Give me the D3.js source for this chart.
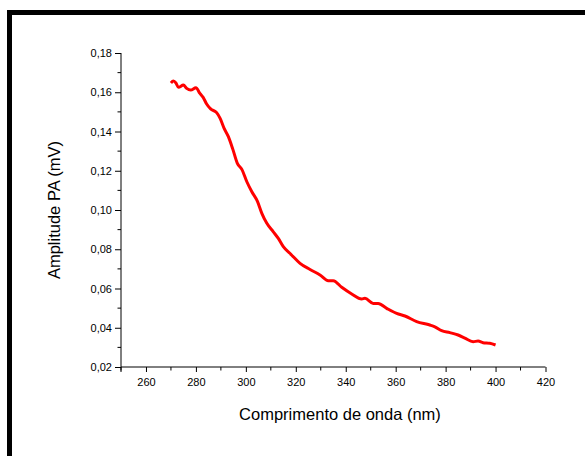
<!DOCTYPE html>
<html>
<head>
<meta charset="utf-8">
<script src="https://cdn.jsdelivr.net/npm/d3@7"></script>
<style>
html,body{margin:0;padding:0;background:#fff;}
svg{display:block;font-family:"Liberation Sans",Arial,sans-serif;}
</style>
</head>
<body>
<script>
const wavelength = [270,271,272,273,275,276.3,277.9,280,281.6,282.9,284.3,285.9,288.3,289.7,291.3,293,294.8,296.6,298.4,300.4,302.4,304.6,306.4,308.4,311,313,315,318.3,321.7,325.7,329.7,333,335,338.4,342.4,346.4,347.7,351,353,356.4,360.4,363.7,368.4,373.7,375.7,378.4,381.7,385,387.7,391,393,395,397.7,400];
const amplitude = [0.1647,0.1657,0.1647,0.1625,0.1637,0.1620,0.1611,0.1623,0.1594,0.1574,0.1540,0.1515,0.1496,0.1467,0.1416,0.1374,0.1309,0.1238,0.1207,0.1144,0.1093,0.1045,0.0983,0.0932,0.0889,0.0855,0.0813,0.0771,0.0728,0.0697,0.0669,0.0640,0.0640,0.0606,0.0572,0.0546,0.0550,0.0524,0.0524,0.0499,0.0473,0.0460,0.0431,0.0414,0.0405,0.0385,0.0375,0.0363,0.0347,0.0329,0.0332,0.0324,0.0321,0.0312];
const xTicks = [260,280,300,320,340,360,380,400,420];
const xMinor = [250,270,290,310,330,350,370,390,410];
const yTicks = [0.02,0.04,0.06,0.08,0.10,0.12,0.14,0.16,0.18];
const yMinor = [0.03,0.05,0.07,0.09,0.11,0.13,0.15,0.17];
const xTitle = "Comprimento de onda (nm)";
const yTitle = "Amplitude PA (mV)";

const W = 585, H = 456;
const svg = d3.select("body").append("svg").attr("width", W).attr("height", H);

// frame
svg.append("rect").attr("x", 9.5).attr("y", 12.5).attr("width", 700).attr("height", 600)
  .attr("fill", "#fff").attr("stroke", "#000").attr("stroke-width", 5);

const x = d3.scaleLinear().domain([250, 420]).range([121, 545.5]);
const y = d3.scaleLinear().domain([0.02, 0.18]).range([367, 53]);
const fmt = d => d3.format(".2f")(d).replace(".", ",");

// x axis
const gx = svg.append("g").attr("transform", "translate(0,367)");
gx.call(d3.axisBottom(x).tickValues(xTicks).tickSize(5).tickSizeOuter(0).tickPadding(6))
  .call(g => g.select(".domain").attr("d", `M${x(250)},0H${x(420)}`));
gx.append("g").selectAll("line").data(xMinor).join("line")
  .attr("x1", d => x(d)).attr("x2", d => x(d)).attr("y1", 0).attr("y2", 3.5).attr("stroke", "#000");
gx.selectAll("text").attr("font-size", 11).attr("fill", "#000").attr("font-family", "Liberation Sans, Arial, sans-serif");

// y axis
const gy = svg.append("g").attr("transform", "translate(121,0)");
gy.call(d3.axisLeft(y).tickValues(yTicks).tickFormat(fmt).tickSize(6).tickSizeOuter(0).tickPadding(3))
  .call(g => g.select(".domain").attr("d", `M0,${y(0.18)}V${y(0.02) + 5}`));
gy.append("g").selectAll("line").data(yMinor).join("line")
  .attr("y1", d => y(d)).attr("y2", d => y(d)).attr("x1", 0).attr("x2", -3.5).attr("stroke", "#000");
gy.selectAll("text").attr("font-size", 11).attr("fill", "#000").attr("font-family", "Liberation Sans, Arial, sans-serif");

// line
const line = d3.line().x((d, i) => x(wavelength[i])).y(d => y(d)).curve(d3.curveMonotoneX);
svg.append("path").datum(amplitude).attr("d", line)
  .attr("fill", "none").attr("stroke", "#ff0000").attr("stroke-width", 3).attr("stroke-linejoin", "round");

// titles
svg.append("text").attr("x", 340).attr("y", 420).attr("text-anchor", "middle")
  .attr("font-size", 16.5).attr("fill", "#000").text(xTitle);
svg.append("text").attr("transform", "translate(60,210) rotate(-90)").attr("text-anchor", "middle")
  .attr("font-size", 16.5).attr("fill", "#000").text(yTitle);
</script>
</body>
</html>
